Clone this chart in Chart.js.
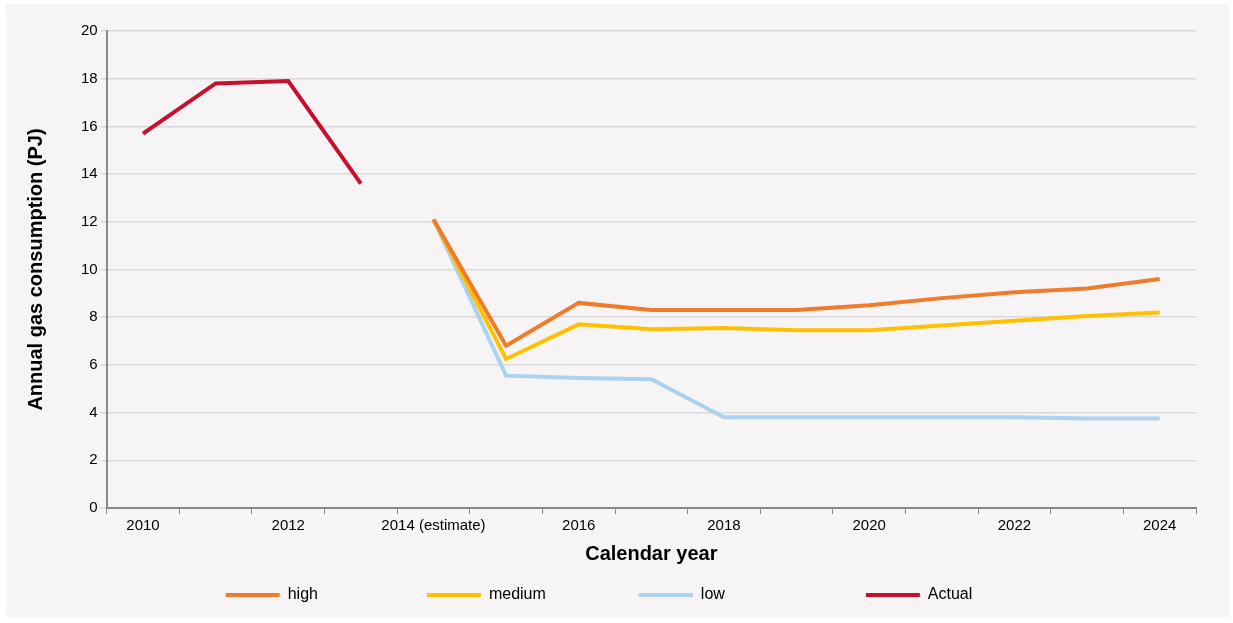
<!DOCTYPE html>
<html>
<head>
<script src="https://cdn.jsdelivr.net/npm/chart.js@4"></script>
<style>
  body { margin: 0; background: #fff; }
  #wrap { position: absolute; left: 6px; top: 4px; width: 1223px; height: 613px; background: #f6f4f5; }
</style>
</head>
<body>
<div id="wrap"><canvas id="chart"></canvas></div>
<script>
// Years on the x axis
const years = ["2010", "2011", "2012", "2013", "2014 (estimate)", "2015", "2016", "2017",
  "2018", "2019", "2020", "2021", "2022", "2023", "2024"];

// Series values (PJ)
const actual = [15.7, 17.8, 17.9, 13.6, null, null, null, null, null, null, null, null, null, null, null];
const high = [null, null, null, null, 12.1, 6.8, 8.6, 8.3, 8.3, 8.3, 8.5, 8.8, 9.05, 9.2, 9.6];
const medium = [null, null, null, null, 12.1, 6.25, 7.7, 7.5, 7.55, 7.45, 7.45, 7.65, 7.85, 8.05, 8.2];
const low = [null, null, null, null, 12.1, 5.55, 5.45, 5.4, 3.8, 3.8, 3.8, 3.8, 3.8, 3.75, 3.75];

const line = (label, data, color) => ({
  label, data, borderColor: color, backgroundColor: color,
  borderWidth: 4, pointRadius: 0, tension: 0, spanGaps: false
});

const legendPad = [6, 5, 8, 1];

new Chart(document.getElementById("chart"), {
  type: "line",
  data: {
    labels: years,
    datasets: [
      line("high", high, "#f07b2a"),
      line("medium", medium, "#ffc000"),
      line("low", low, "#a9d3f0"),
      line("Actual", actual, "#c8102e")
    ]
  },
  options: {
    responsive: true,
    maintainAspectRatio: false,
    animation: false,
    layout: { padding: { left: 12, right: 33, top: 27, bottom: 4 } },
    plugins: {
      legend: {
        position: "bottom",
        labels: {
          boxWidth: 54, boxHeight: 4, padding: 13, color: "#000",
          font: { family: "Liberation Sans, Arial", size: 16 },
          generateLabels: chart => chart.data.datasets.map((d, i) => ({
            text: d.label + "\u2003".repeat(legendPad[i]),
            fillStyle: d.borderColor, strokeStyle: d.borderColor, lineWidth: 0, datasetIndex: i
          }))
        }
      },
      tooltip: { enabled: false }
    },
    scales: {
      x: {
        offset: true,
        grid: { display: true, drawOnChartArea: false, offset: true, tickLength: 6, color: "#888" },
        border: { color: "#888", width: 2 },
        ticks: {
          autoSkip: false, maxRotation: 0, color: "#000",
          font: { family: "Liberation Sans, Arial", size: 15 },
          callback: function (v, i) { return i % 2 == 0 ? this.getLabelForValue(v) : ""; }
        },
        title: { display: true, text: "Calendar year", color: "#000", padding: { top: 4, bottom: 8 },
          font: { family: "Liberation Sans, Arial", size: 20, weight: "bold" } }
      },
      y: {
        min: 0, max: 20,
        grid: { color: "#d9d9d9", lineWidth: 1.5, tickLength: 6 },
        border: { color: "#888", width: 2 },
        ticks: { stepSize: 2, color: "#000", font: { family: "Liberation Sans, Arial", size: 15 } },
        title: { display: true, text: "Annual gas consumption (PJ)", color: "#000", padding: { top: 6, bottom: 30 },
          font: { family: "Liberation Sans, Arial", size: 20, weight: "bold" } }
      }
    }
  }
});
</script>
</body>
</html>
